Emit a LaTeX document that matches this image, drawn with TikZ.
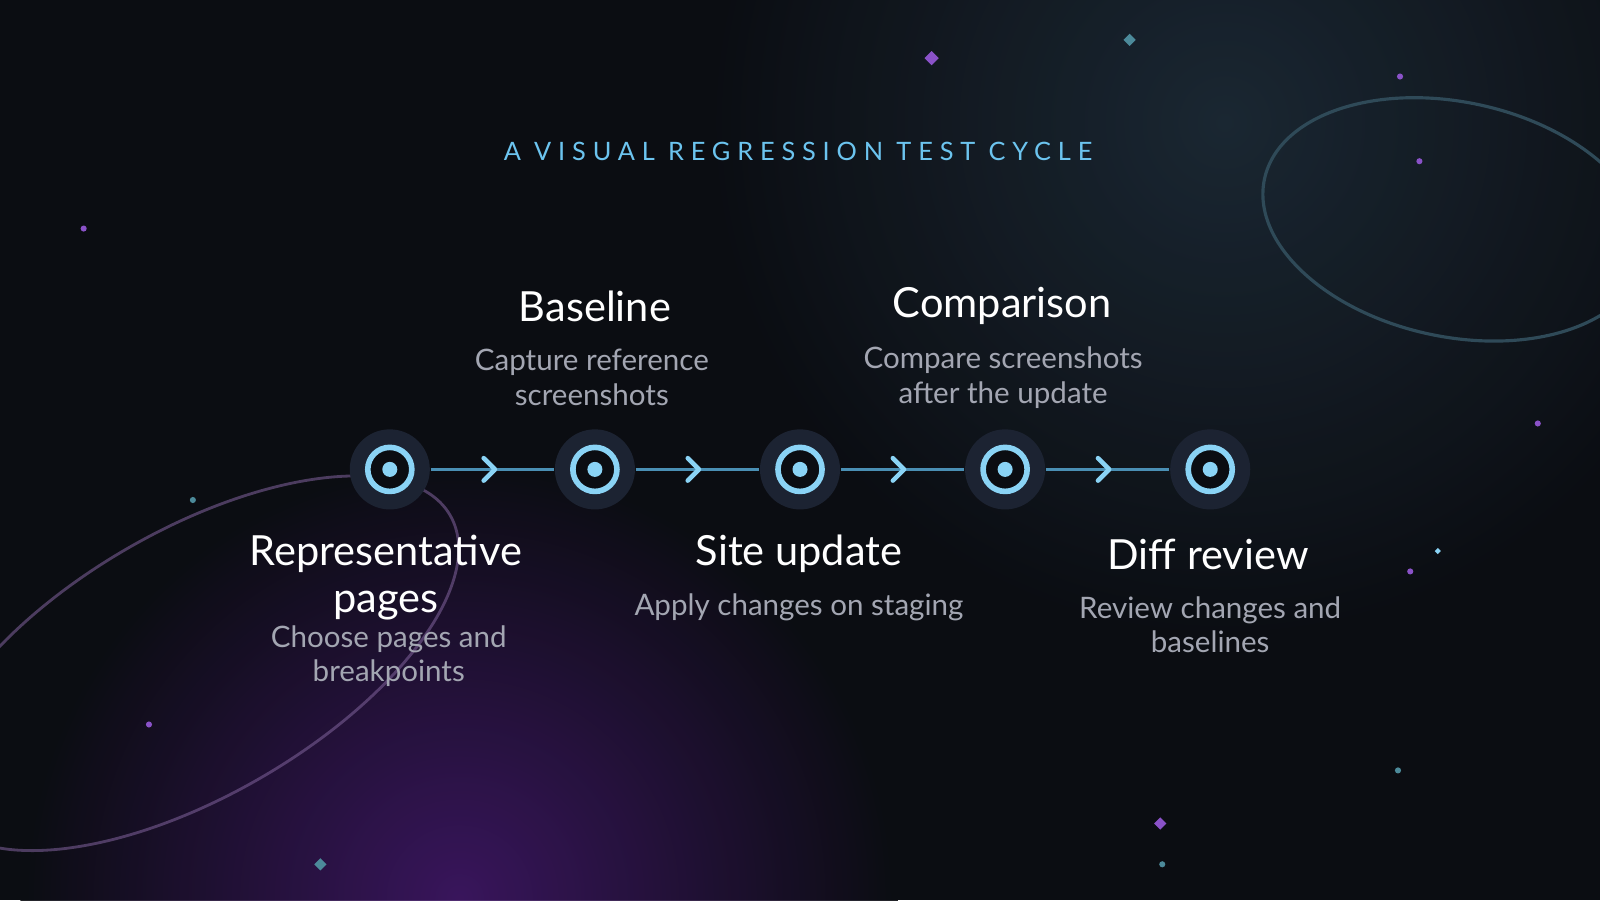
\documentclass[tikz,border=0pt]{standalone}
\usepackage{fontspec}
\setmainfont{Lato}
\usetikzlibrary{positioning}
\definecolor{bgdark}{HTML}{0B0D12}
\definecolor{glowpurple}{HTML}{3E1664}
\definecolor{glowteal}{HTML}{1C2A36}
\definecolor{ringblue}{HTML}{8AD3F5}
\definecolor{linkblue}{HTML}{4A8FB4}
\definecolor{halo}{HTML}{1C2332}
\definecolor{titleblue}{HTML}{6CC4EF}
\definecolor{descgray}{HTML}{A3A6B2}
\definecolor{orbit}{HTML}{2F4A58}
\definecolor{dotpurple}{HTML}{8A52C8}
\definecolor{dotteal}{HTML}{4C8A9A}
\tikzset{
  stage/.style={circle, draw=ringblue, line width=1.6pt, fill=bgdark, minimum size=0.44cm, inner sep=0pt},
  hub/.style={circle, fill=ringblue, minimum size=0.15cm, inner sep=0pt},
  halo/.style={circle, fill=halo, minimum size=0.8cm, inner sep=0pt},
  heading/.style={text=white, font=\fontsize{11.8}{13.5}\selectfont, align=center},
  note/.style={text=descgray, font=\fontsize{8.4}{9.8}\selectfont, align=center},
  link/.style={draw=linkblue, line width=0.9pt},
  chevron/.style={draw=ringblue, line width=1.3pt, line cap=round, line join=round},
  spark/.style={fill=dotpurple},
  speck/.style={fill=dotteal}
}
\begin{document}
\begin{tikzpicture}[x={(0.0102cm,0)}, y={(0,-0.0102cm)}]
\fill[bgdark] (0,0) rectangle (1568,882);
\useasboundingbox (0,0) rectangle (1568,882);
\begin{scope}
\clip (0,0) rectangle (1568,882);
\shade[inner color=glowpurple, outer color=bgdark, opacity=0.9] (450,880) circle (430);
\shade[inner color=glowteal, outer color=bgdark, opacity=0.9] (1200,120) circle (520);
\draw[orbit, line width=0.9pt, rotate around={-12:(1425,215)}] (1425,215) ellipse [x radius=190, y radius=115];
\draw[glowpurple!70!white, line width=0.8pt, opacity=0.6, rotate around={30:(190,650)}] (190,650) ellipse [x radius=290, y radius=130];
\end{scope}
% decorative sparks
\foreach \px/\py in {82/224, 146/710, 1372/75, 1391/158, 1507/415, 1382/560}
  \fill[spark] (\px,\py) circle (3);
\foreach \px/\py in {189/490, 1370/755, 1139/847}
  \fill[speck] (\px,\py) circle (3);
\fill[spark] (913,50) -- (920,57) -- (913,64) -- (906,57) -- cycle;
\fill[spark] (1137,801) -- (1143,807) -- (1137,813) -- (1131,807) -- cycle;
\fill[speck] (1107,33) -- (1113,39) -- (1107,45) -- (1101,39) -- cycle;
\fill[speck] (314,841) -- (320,847) -- (314,853) -- (308,847) -- cycle;
\fill[ringblue] (1409,537) -- (1412,540) -- (1409,543) -- (1406,540) -- cycle;
% title
\node[text=titleblue, font=\fontsize{7.2}{8}\selectfont\addfontfeatures{LetterSpace=27}] (title) at (782,148) {A VISUAL REGRESSION TEST CYCLE};
% timeline
\foreach \i/\px in {1/382, 2/583, 3/784, 4/985, 5/1186} {
  \node[halo] (h\i) at (\px,460) {};
}
\foreach \i/\j/\mx in {1/2/482, 2/3/682, 3/4/883, 4/5/1084} {
  \draw[link] (h\i) -- (h\j);
  \draw[chevron] (\mx-8,449) -- (\mx+3,460) -- (\mx-8,471);
}
\foreach \i in {1,...,5} {
  \node[stage] (s\i) at (h\i) {};
  \node[hub] at (s\i) {};
}
% labels
\node[heading] (t1) at (378,566) {Representative\\pages};
\node[note] (d1) at (381,643) {Choose pages and\\breakpoints};
\node[heading] (t2) at (583,300) {Baseline};
\node[note] (d2) at (580,370) {Capture reference\\screenshots};
\node[heading] (t3) at (783,543) {Site update};
\node[note] (d3) at (783,595) {Apply changes on staging};
\node[heading] (t4) at (982,300) {Comparison};
\node[note] (d4) at (983,370) {Compare screenshots\\after the update};
\node[heading] (t5) at (1184,543) {Diff review};
\node[note] (d5) at (1186,612) {Review changes and\\baselines};
\end{tikzpicture}
\end{document}
